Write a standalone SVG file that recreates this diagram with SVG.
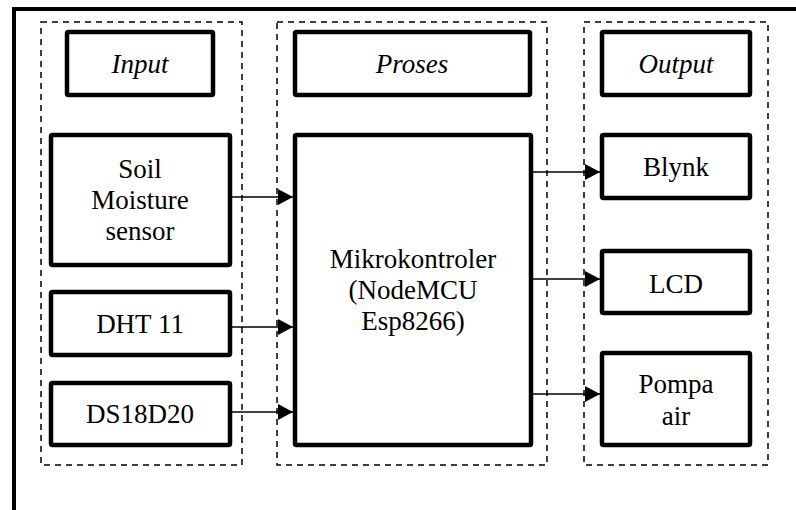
<svg xmlns="http://www.w3.org/2000/svg" width="796" height="510" viewBox="0 0 796 510">
<defs>
<style>
.frame{stroke:#000;stroke-width:4;fill:none}
.group{fill:none;stroke:#000;stroke-width:1.5;stroke-dasharray:6 5}
.box{fill:#fff;stroke:#000;stroke-width:4.5}
.lbl{font-family:"Liberation Serif","Times New Roman",serif;font-size:27px;fill:#000;text-anchor:middle}
.it{font-style:italic}
.conn{stroke:#000;stroke-width:1.5;fill:none;marker-end:url(#ah)}
</style>
<marker id="ah" viewBox="0 0 15 16" refX="15" refY="8" markerWidth="15" markerHeight="16" markerUnits="userSpaceOnUse" orient="auto">
<path d="M0,0 L15,8 L0,16 Z" fill="#000"/>
</marker>
</defs>
<rect width="796" height="510" fill="#fff"/>
<g id="frame">
<line class="frame" x1="14" y1="9" x2="796" y2="9"/>
<line class="frame" x1="14" y1="7" x2="14" y2="510"/>
</g>
<g id="groups">
<rect class="group" x="41" y="22" width="201" height="443"/>
<rect class="group" x="277" y="22" width="270" height="443"/>
<rect class="group" x="584" y="22" width="184" height="443"/>
</g>
<g id="connectors">
<line class="conn" x1="232" y1="197" x2="293" y2="197"/>
<line class="conn" x1="232" y1="327" x2="293" y2="327"/>
<line class="conn" x1="232" y1="412" x2="293" y2="412"/>
<line class="conn" x1="533" y1="172" x2="600" y2="172"/>
<line class="conn" x1="533" y1="279" x2="600" y2="279"/>
<line class="conn" x1="533" y1="394" x2="600" y2="394"/>
</g>
<g id="input-label">
<rect class="box" x="67" y="32" width="146" height="63" rx="1.5"/>
<text class="lbl it" x="140" y="73">Input</text>
</g>
<g id="proses-label">
<rect class="box" x="295" y="32" width="235" height="63" rx="1.5"/>
<text class="lbl it" x="412" y="73">Proses</text>
</g>
<g id="output-label">
<rect class="box" x="602" y="32" width="148" height="63" rx="1.5"/>
<text class="lbl it" x="676" y="73">Output</text>
</g>
<g id="soil">
<rect class="box" x="51" y="135" width="179" height="130" rx="1.5"/>
<text class="lbl" x="140" y="178">Soil</text>
<text class="lbl" x="140" y="209">Moisture</text>
<text class="lbl" x="140" y="240">sensor</text>
</g>
<g id="dht11">
<rect class="box" x="51" y="292" width="179" height="63" rx="1.5"/>
<text class="lbl" x="140" y="333">DHT 11</text>
</g>
<g id="ds18d20">
<rect class="box" x="51" y="383" width="179" height="62" rx="1.5"/>
<text class="lbl" x="140" y="423">DS18D20</text>
</g>
<g id="mikrokontroler">
<rect class="box" x="295" y="135" width="236" height="310" rx="1.5"/>
<text class="lbl" x="413" y="268">Mikrokontroler</text>
<text class="lbl" x="413" y="299">(NodeMCU</text>
<text class="lbl" x="413" y="330">Esp8266)</text>
</g>
<g id="blynk">
<rect class="box" x="602" y="135" width="148" height="63" rx="1.5"/>
<text class="lbl" x="676" y="176">Blynk</text>
</g>
<g id="lcd">
<rect class="box" x="602" y="251" width="148" height="62" rx="1.5"/>
<text class="lbl" x="676" y="293">LCD</text>
</g>
<g id="pompa">
<rect class="box" x="602" y="353" width="148" height="92" rx="1.5"/>
<text class="lbl" x="676" y="393">Pompa</text>
<text class="lbl" x="676" y="425">air</text>
</g>
</svg>
